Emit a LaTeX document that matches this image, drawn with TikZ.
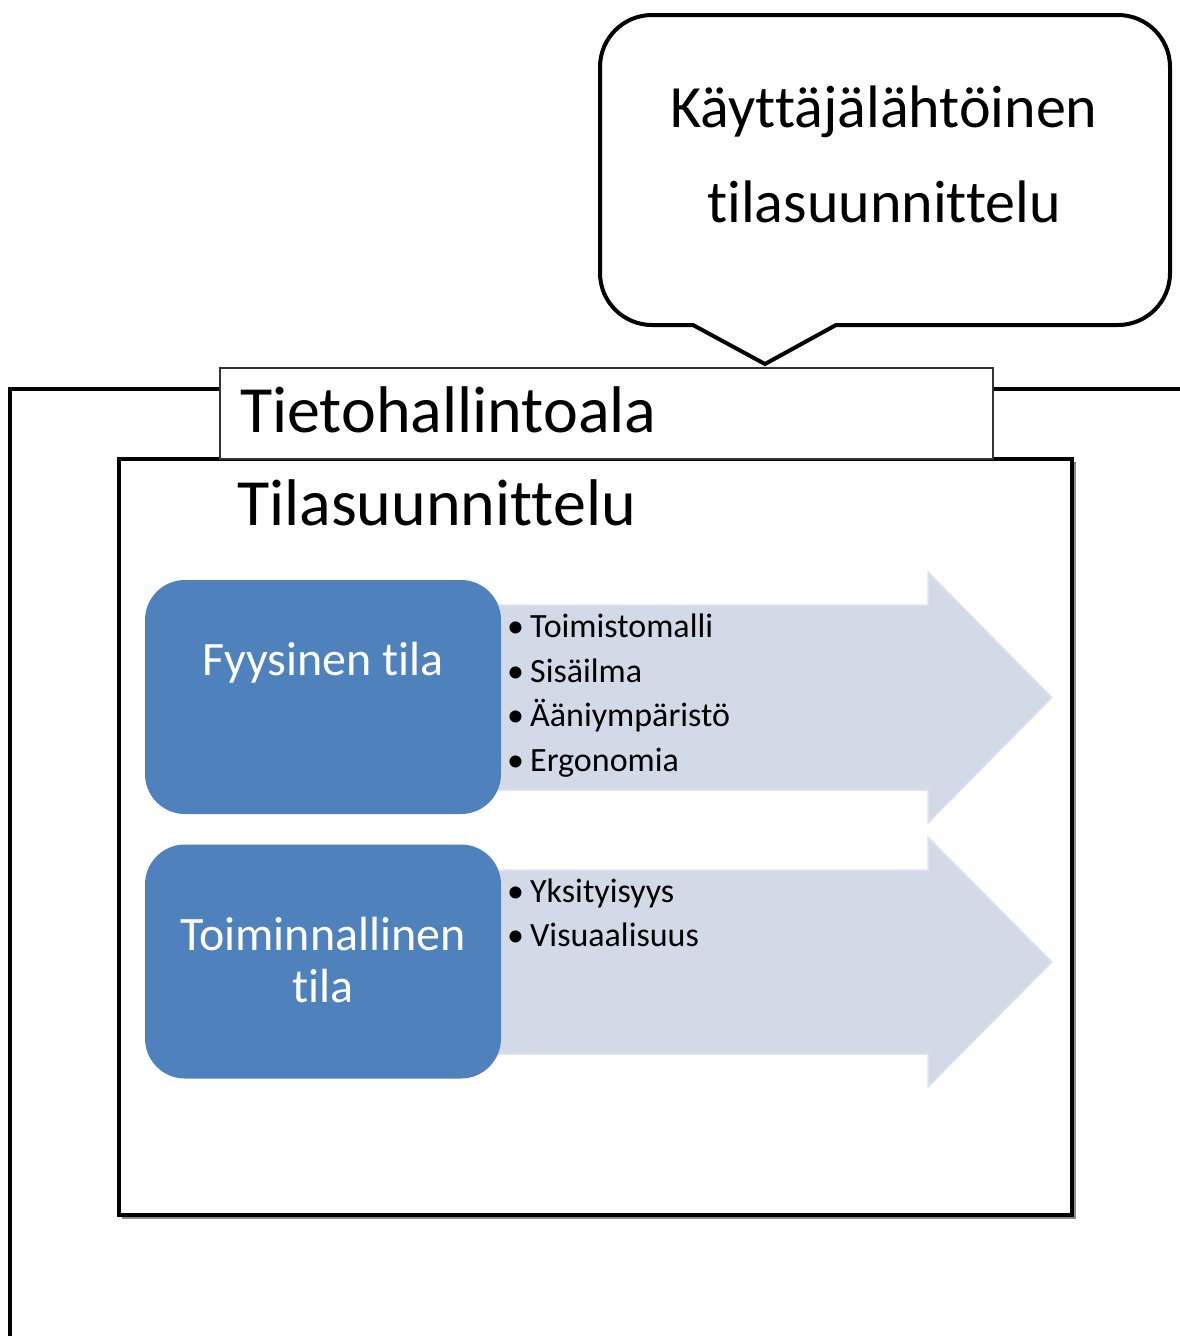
\documentclass[tikz,border=0pt]{standalone}
\usepackage{fontspec}
\setmainfont{Carlito}[Ligatures={NoCommon}]
\definecolor{boxblue}{RGB}{79,129,189}
\definecolor{arrowgrey}{RGB}{211,218,231}
\definecolor{arrowedge}{RGB}{222,227,238}
\tikzset{
  frame/.style={draw=black, line width=4pt, line join=miter},
  framedrop/.style={draw=black!45, line width=2pt},
  titlebox/.style={draw=black!80, fill=white, line width=1.3pt},
  bluebox/.style={fill=boxblue, rounded corners=40pt, minimum width=356pt, minimum height=234pt, inner sep=0pt},
  bigarrow/.style={fill=arrowgrey, draw=arrowedge, line width=1.5pt},
  headtext/.style={inner sep=0pt, anchor=base west, font=\fontsize{66}{78}\selectfont},
  calloutext/.style={inner sep=0pt, anchor=base, font=\fontsize{60}{70}\selectfont},
  boxtext/.style={inner sep=0pt, anchor=base, text=white, font=\fontsize{48}{52}\selectfont},
  itemtext/.style={inner sep=0pt, anchor=base west, font=\fontsize{34}{40}\selectfont}
}
\newcommand{\bulletitem}[1]{\makebox[23pt][l]{\textbullet}#1}
\begin{document}
\begin{tikzpicture}[x=1pt, y=-1pt]
\useasboundingbox (0,0) rectangle (1179,1336);

% speech bubble with pointer
\draw[line width=4pt, line join=miter, fill=white]
  (693,325) -- (765,364) -- (836,325) -- (1118,325)
  .. controls (1146.7,325) and (1170,301.7) .. (1170,273)
  -- (1170,67)
  .. controls (1170,38.3) and (1146.7,15) .. (1118,15)
  -- (652,15)
  .. controls (623.3,15) and (600,38.3) .. (600,67)
  -- (600,273)
  .. controls (600,301.7) and (623.3,325) .. (652,325) -- cycle;
\node[calloutext] (c1) at (884,127) {Käyttäjälähtöinen};
\node[calloutext] (c2) at (884,222) {tilasuunnittelu};

% outer frame (runs off the page)
\draw[frame] (10,1345) -- (10,389) -- (1190,389);

% inner frame with a faint drop line
\draw[framedrop] (122,1218) -- (1075,1218) -- (1075,462);
\draw[frame] (119,459) rectangle (1072,1215);

% title tab
\draw[titlebox] (220,368) rectangle (993,459);
\node[headtext] (tieto) at (240,432) {Tietohallintoala};
\node[headtext] (tila) at (237,525) {Tilasuunnittelu};

% arrows behind the blue boxes
\draw[bigarrow] (480,605) -- (928,605) -- (928,572) -- (1052,697.5)
  -- (928,823) -- (928,790) -- (480,790) -- cycle;
\draw[bigarrow] (480,870) -- (928,870) -- (928,837) -- (1052,962)
  -- (928,1087) -- (928,1054) -- (480,1054) -- cycle;

% blue boxes
\node[bluebox] (fyys) at (323,697) {};
\node[bluebox] (toim) at (323,961.5) {};
\node[boxtext] (fyyst) at (323,675) {Fyysinen tila};
\node[boxtext] (toimt1) at (323,950) {Toiminnallinen};
\node[boxtext] (toimt2) at (323,1002) {tila};

% bullet lists
\node[itemtext] (i1) at (507,637) {\bulletitem{Toimistomalli}};
\node[itemtext] (i2) at (507,682) {\bulletitem{Sisäilma}};
\node[itemtext] (i3) at (507,726) {\bulletitem{Ääniympäristö}};
\node[itemtext] (i4) at (507,771) {\bulletitem{Ergonomia}};
\node[itemtext] (j1) at (507,902) {\bulletitem{Yksityisyys}};
\node[itemtext] (j2) at (507,946) {\bulletitem{Visuaalisuus}};
\end{tikzpicture}
\end{document}
